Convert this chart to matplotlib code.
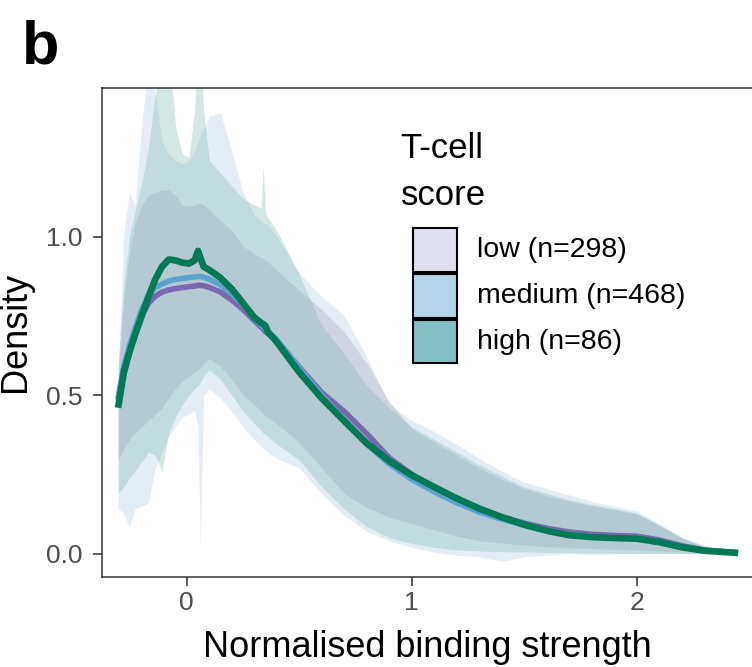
import matplotlib
matplotlib.use("Agg")
import matplotlib.pyplot as plt
from matplotlib.patches import Rectangle

plt.rcParams['font.family'] = ['Liberation Sans', 'DejaVu Sans']

# ---- data -------------------------------------------------------------
x_grid = [-0.305, -0.28, -0.255, -0.23, -0.20, -0.17, -0.14, -0.11, -0.08, -0.05,
          -0.02, 0.01, 0.035, 0.05, 0.06, 0.075, 0.10, 0.15, 0.20, 0.25,
          0.30, 0.33, 0.34, 0.35, 0.36, 0.40, 0.50, 0.60, 0.70, 0.80,
          0.90, 1.00, 1.10, 1.20, 1.30, 1.40, 1.50, 1.60, 1.70, 1.80,
          1.90, 2.00, 2.10, 2.20, 2.30, 2.45]

groups = ["low", "medium", "high"]
group_n = [298, 468, 86]

low_mean = [0.485, 0.585, 0.645, 0.695, 0.75, 0.79, 0.812, 0.825, 0.832, 0.836,
            0.839, 0.842, 0.844, 0.846, 0.846, 0.845, 0.84, 0.825, 0.80, 0.77,
            0.735, 0.715, 0.708, 0.70, 0.695, 0.672, 0.588, 0.508, 0.448, 0.378,
            0.302, 0.25, 0.206, 0.17, 0.141, 0.116, 0.096, 0.08, 0.068, 0.061,
            0.057, 0.055, 0.043, 0.025, 0.011, 0.002]
medium_mean = [0.49, 0.59, 0.655, 0.71, 0.77, 0.815, 0.84, 0.85, 0.86, 0.865,
               0.868, 0.871, 0.873, 0.874, 0.874, 0.872, 0.866, 0.848, 0.82, 0.785,
               0.745, 0.722, 0.715, 0.707, 0.70, 0.675, 0.585, 0.50, 0.422, 0.345,
               0.283, 0.234, 0.195, 0.16, 0.131, 0.108, 0.089, 0.073, 0.061, 0.054,
               0.05, 0.047, 0.037, 0.021, 0.01, 0.002]
high_mean = [0.46, 0.57, 0.635, 0.69, 0.75, 0.81, 0.865, 0.905, 0.928, 0.925,
             0.918, 0.915, 0.925, 0.955, 0.935, 0.905, 0.895, 0.87, 0.835, 0.79,
             0.745, 0.728, 0.724, 0.718, 0.70, 0.668, 0.572, 0.49, 0.418, 0.348,
             0.292, 0.247, 0.21, 0.174, 0.142, 0.115, 0.091, 0.072, 0.058, 0.052,
             0.049, 0.047, 0.036, 0.02, 0.009, 0.002]

low_lo = [0.295, 0.33, 0.36, 0.38, 0.40, 0.42, 0.44, 0.46, 0.49, 0.52,
          0.545, 0.56, 0.575, 0.58, 0.585, 0.60, 0.615, 0.59, 0.55, 0.50,
          0.47, 0.45, 0.44, 0.435, 0.43, 0.41, 0.35, 0.27, 0.19, 0.145,
          0.115, 0.095, 0.075, 0.055, 0.04, 0.033, 0.027, 0.022, 0.018, 0.016,
          0.013, 0.011, 0.008, 0.005, 0.002, 0.0]
low_hi = [0.55, 0.80, 0.95, 1.04, 1.10, 1.13, 1.14, 1.147, 1.147, 1.13,
          1.10, 1.095, 1.10, 1.105, 1.105, 1.10, 1.085, 1.05, 1.02, 0.97,
          0.945, 0.935, 0.93, 0.925, 0.92, 0.895, 0.83, 0.77, 0.70, 0.60,
          0.48, 0.395, 0.35, 0.31, 0.27, 0.235, 0.205, 0.182, 0.165, 0.15,
          0.138, 0.125, 0.088, 0.048, 0.022, 0.005]

medium_lo = [0.14, 0.13, 0.08, 0.14, 0.15, 0.16, 0.27, 0.32, 0.37, 0.40,
             0.43, 0.44, 0.45, 0.40, 0.02, 0.50, 0.52, 0.49, 0.45, 0.40,
             0.36, 0.34, 0.33, 0.325, 0.32, 0.30, 0.27, 0.19, 0.12, 0.07,
             0.04, 0.02, 0.005, -0.005, -0.01, -0.025, -0.01, -0.005, 0.0, -0.005,
             0.0, 0.0, 0.0, 0.0, 0.0, 0.0]
medium_hi = [0.55, 1.00, 1.14, 1.10, 1.35, 1.55, 1.45, 1.30, 1.26, 1.24,
             1.23, 1.24, 1.27, 1.30, 1.32, 1.34, 1.38, 1.39, 1.27, 1.14,
             1.07, 1.05, 1.045, 1.042, 1.04, 1.0, 0.885, 0.81, 0.75, 0.62,
             0.47, 0.42, 0.385, 0.345, 0.30, 0.26, 0.225, 0.205, 0.185, 0.165,
             0.15, 0.135, 0.095, 0.052, 0.025, 0.006]

high_lo = [0.19, 0.21, 0.24, 0.26, 0.29, 0.32, 0.31, 0.26, 0.38, 0.43,
           0.47, 0.50, 0.52, 0.53, 0.54, 0.56, 0.58, 0.55, 0.50, 0.45,
           0.41, 0.39, 0.38, 0.375, 0.37, 0.345, 0.295, 0.21, 0.14, 0.085,
           0.05, 0.032, 0.02, 0.012, 0.008, 0.006, 0.005, 0.004, 0.003, 0.002,
           0.001, 0.0, 0.0, 0.0, 0.0, 0.0]
high_hi = [0.60, 0.85, 1.0, 1.08, 1.17, 1.28, 1.45, 1.60, 1.60, 1.35,
           1.26, 1.25, 1.40, 1.60, 1.60, 1.40, 1.24, 1.20, 1.16, 1.12,
           1.10, 1.09, 1.22, 1.075, 1.06, 1.02, 0.88, 0.72, 0.63, 0.53,
           0.46, 0.40, 0.36, 0.32, 0.28, 0.245, 0.21, 0.19, 0.17, 0.155,
           0.142, 0.128, 0.09, 0.05, 0.023, 0.006]

x_ticks = [0, 1, 2]
y_ticks = [0.0, 0.5, 1.0]

# ---- styling ----------------------------------------------------------
band_colors = {"low": "#a49db7", "medium": "#a8c6de", "high": "#76b2ac"}
line_colors = {"low": "#7b68b0", "medium": "#5aa3d0", "high": "#007a55"}
line_widths = {"low": 4.0, "medium": 4.0, "high": 4.8}
key_colors = {"low": "#e0dfef", "medium": "#b3d4e6", "high": "#83bfc2"}

bands = {"low": (low_lo, low_hi), "medium": (medium_lo, medium_hi),
         "high": (high_lo, high_hi)}
means = {"low": low_mean, "medium": medium_mean, "high": high_mean}

W, H = 752, 667
fig = plt.figure(figsize=(W / 100, H / 100), dpi=100)


def fx(px):
    return px / W


def fy(py):
    return 1 - py / H


ax = fig.add_axes([fx(101.7), fy(576.7), fx(752) - fx(101.7), fy(88.3) - fy(576.7)])

# ribbons: medium first, then low, then high on top
for g in ["medium", "low", "high"]:
    lo, hi = bands[g]
    ax.fill_between(x_grid, lo, hi, color=band_colors[g], alpha=0.3, lw=0)

for g in ["low", "medium", "high"]:
    ax.plot(x_grid, means[g], color=line_colors[g], lw=line_widths[g],
            solid_capstyle="butt", solid_joinstyle="round")

ax.set_xlim(-0.378, 2.512)
ax.set_ylim(-0.073, 1.468)
ax.set_xticks(x_ticks)
ax.set_xticklabels([str(t) for t in x_ticks])
ax.set_yticks(y_ticks)
ax.set_yticklabels([f"{t:.1f}" for t in y_ticks])

for side in ["left", "bottom", "top"]:
    ax.spines[side].set_color("#333333")
    ax.spines[side].set_linewidth(1.1)
ax.spines["right"].set_visible(False)
ax.tick_params(axis="both", length=6.5, width=1.1, color="#333333",
               labelsize=19, labelcolor="#4d4d4d")
ax.tick_params(axis="x", pad=4)
ax.tick_params(axis="y", pad=7)

# axis titles
fig.text(fx(16), fy(331.7), "Density", rotation=90, ha="center", va="center",
         fontsize=26, color="black")
fig.text(fx(427), fy(657), "Normalised binding strength", ha="center",
         va="baseline", fontsize=26, color="black")

# panel tag
fig.text(fx(22), fy(64), "b", ha="left", va="baseline", fontsize=44,
         fontweight="bold", color="black")

# legend
fig.text(fx(400.7), fy(158), "T-cell", ha="left", va="baseline", fontsize=25)
fig.text(fx(400.7), fy(205), "score", ha="left", va="baseline", fontsize=25)
key_tops = [228.3, 274.0, 320.0]
for g, n, top in zip(groups, group_n, key_tops):
    fig.patches.append(Rectangle((fx(412.7), fy(top + 43.5)), fx(44.6), 43.5 / H,
                                 transform=fig.transFigure, facecolor=key_colors[g],
                                 edgecolor="black", linewidth=1.5))
    fig.text(fx(477.3), fy(top + 21.7), f"{g} (n={n})", ha="left", va="center",
             fontsize=20.5, color="black")

fig.savefig("out.png", dpi=100)
